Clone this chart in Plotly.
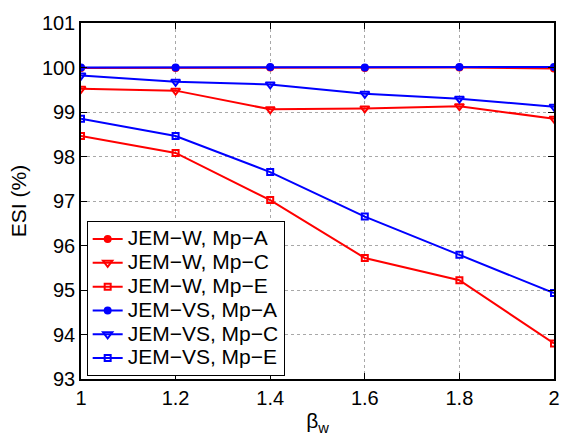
import plotly.graph_objects as go

beta = [1.0, 1.2, 1.4, 1.6, 1.8, 2.0]
w_a = [99.99, 99.99, 100.0, 99.99, 100.0, 99.98]
w_c = [99.52, 99.48, 99.06, 99.08, 99.13, 98.85]
w_e = [98.46, 98.08, 97.02, 95.72, 95.22, 93.80]
vs_a = [100.0, 100.0, 100.01, 100.0, 100.01, 100.01]
vs_c = [99.82, 99.68, 99.62, 99.41, 99.30, 99.12]
vs_e = [98.85, 98.46, 97.65, 96.65, 95.79, 94.93]

names = ["JEM−W, Mp−A", "JEM−W, Mp−C", "JEM−W, Mp−E",
         "JEM−VS, Mp−A", "JEM−VS, Mp−C", "JEM−VS, Mp−E"]
series = [w_a, w_c, w_e, vs_a, vs_c, vs_e]
colors = ["#ff0000"] * 3 + ["#0000ff"] * 3
symbols = ["circle", "triangle-down-open", "square-open"] * 2
sizes = [6, 8, 6] * 2

fig = go.Figure()
for n, s, c, sym, sz in zip(names, series, colors, symbols, sizes):
    fig.add_trace(go.Scatter(
        x=beta, y=s, name='<span style="font-size:21px">' + n + '</span>',
        mode="lines+markers",
        line=dict(color=c, width=2),
        marker=dict(symbol=sym, size=sz, color=c, line=dict(color=c, width=2)),
    ))

fam = "Liberation Sans, Arial, sans-serif"
fig.update_layout(
    width=572, height=441,
    margin=dict(l=81, r=15, t=15, b=58),
    paper_bgcolor="white", plot_bgcolor="white",
    font=dict(family=fam, size=20, color="black"),
    showlegend=True,
    legend=dict(x=0.012, y=0.008, xanchor="left", yanchor="bottom",
                bgcolor="white", bordercolor="black", borderwidth=1,
                font=dict(family=fam, size=16),
                tracegroupgap=0, itemwidth=30),
    xaxis=dict(range=[1, 2], tickvals=[1, 1.2, 1.4, 1.6, 1.8, 2],
               ticktext=["1", "1.2", "1.4", "1.6", "1.8", "2"],
               tickfont=dict(size=20),
               showgrid=True, gridcolor="#a8a8a8", griddash="dot", gridwidth=1,
               showline=True, linecolor="black", linewidth=1.5, mirror="ticks",
               ticks="inside", ticklen=6, tickcolor="black",
               zeroline=False,
               title=dict(text="β<sub>w</sub>", standoff=6, font=dict(size=21))),
    yaxis=dict(range=[93, 101], tickvals=list(range(93, 102)),
               tickfont=dict(size=20),
               showgrid=True, gridcolor="#a8a8a8", griddash="dot", gridwidth=1,
               showline=True, linecolor="black", linewidth=1.5, mirror="ticks",
               ticks="inside", ticklen=6, tickcolor="black",
               zeroline=False,
               title=dict(text="ESI (%)", standoff=10, font=dict(size=21))),
)

fig.write_html("out.html")
